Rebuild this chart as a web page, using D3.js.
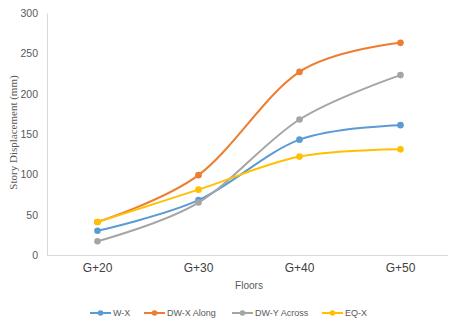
<!DOCTYPE html>
<html>
<head>
<meta charset="utf-8">
<script src="https://cdn.jsdelivr.net/npm/d3@7"></script>
<style>
  html, body { margin: 0; padding: 0; background: #fff; }
  svg { display: block; }
</style>
</head>
<body>
<svg id="chart" width="461" height="324"></svg>
<script>
// Story displacement (mm) per floor level for each load case
const floors = ["G+20", "G+30", "G+40", "G+50"];
const seriesNames = ["W-X", "DW-X Along", "DW-Y Across", "EQ-X"];
const wX = [30, 68, 143, 161];
const dwXAlong = [41, 99, 227, 263];
const dwYAcross = [17, 65, 168, 223];
const eqX = [41, 81, 122, 131];
const yTicks = [0, 50, 100, 150, 200, 250, 300];
const colors = ["#5B9BD5", "#ED7D31", "#A5A5A5", "#FFC000"];

const seriesValues = [wX, dwXAlong, dwYAcross, eqX];
const series = seriesNames.map((name, i) => ({
  name, color: colors[i],
  points: floors.map((f, j) => ({ floor: f, value: seriesValues[i][j] }))
}));

const svg = d3.select("#chart");
const plotLeft = 47, plotRight = 451, plotTop = 13, plotBottom = 255;

const x = d3.scaleBand().domain(floors).range([plotLeft, plotRight]);
const y = d3.scaleLinear().domain([0, 300]).range([plotBottom, plotTop]);

const sans = "'Liberation Sans', Arial, sans-serif";

// Y axis
const yAxis = svg.append("g")
  .attr("transform", `translate(${plotLeft},0)`)
  .call(d3.axisLeft(y).tickValues(yTicks).tickSize(0).tickPadding(9));
yAxis.select(".domain").attr("stroke", "#d9d9d9");
yAxis.selectAll("text")
  .attr("fill", "#595959")
  .style("font-family", sans)
  .style("font-size", "10.5px");

// X axis
const xAxis = svg.append("g")
  .attr("transform", `translate(0,${plotBottom})`)
  .call(d3.axisBottom(x).tickSize(0).tickPadding(8));
xAxis.select(".domain").attr("stroke", "#d9d9d9").attr("d", `M${plotLeft},0.5H${plotRight - 3}`);
xAxis.selectAll("text")
  .attr("fill", "#404040")
  .style("font-family", sans)
  .style("font-size", "12px");

// Axis titles
svg.append("text")
  .attr("transform", `translate(17,${(73 + 192) / 2}) rotate(-90)`)
  .attr("text-anchor", "middle")
  .attr("fill", "#595959")
  .style("font-family", "'Liberation Serif', 'Times New Roman', serif")
  .style("font-size", "11px")
  .text("Story Displacement (mm)");

svg.append("text")
  .attr("x", 249).attr("y", 289)
  .attr("text-anchor", "middle")
  .attr("fill", "#595959")
  .style("font-family", sans)
  .style("font-size", "10px")
  .text("Floors");

// Smoothed series lines with markers
const line = d3.line()
  .x(d => x(d.floor) + x.bandwidth() / 2)
  .y(d => y(d.value))
  .curve(d3.curveCardinal.tension(0));

const g = svg.append("g");
series.forEach(s => {
  g.append("path")
    .datum(s.points)
    .attr("d", line)
    .attr("fill", "none")
    .attr("stroke", s.color)
    .attr("stroke-width", 2)
    .attr("stroke-linecap", "round");
  g.selectAll(null)
    .data(s.points)
    .enter().append("circle")
    .attr("cx", d => x(d.floor) + x.bandwidth() / 2)
    .attr("cy", d => y(d.value))
    .attr("r", 3.3)
    .attr("fill", s.color);
});

// Legend
const legendX = [90, 144, 232, 322];
const legend = svg.append("g");
series.forEach((s, i) => {
  const lg = legend.append("g").attr("transform", `translate(${legendX[i]},313)`);
  lg.append("line").attr("x1", 0).attr("x2", 21).attr("y1", 0).attr("y2", 0)
    .attr("stroke", s.color).attr("stroke-width", 2);
  lg.append("circle").attr("cx", 10.5).attr("cy", 0).attr("r", 2.8).attr("fill", s.color);
  lg.append("text").attr("x", 23).attr("y", 3.3)
    .attr("fill", "#595959")
    .style("font-family", sans)
    .style("font-size", "9px")
    .text(s.name);
});
</script>
</body>
</html>
